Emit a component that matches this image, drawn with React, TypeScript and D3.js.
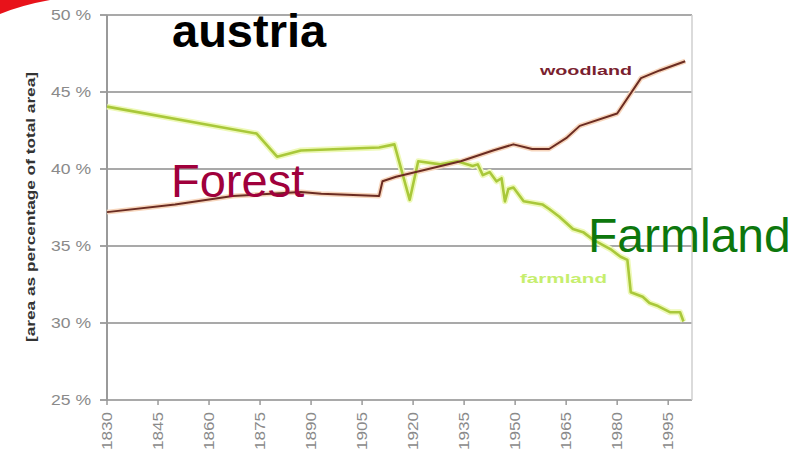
import React from "react";
import * as d3 from "d3";

const yTicks = [25, 30, 35, 40, 45, 50];
const yTickLabels = ["25 %", "30 %", "35 %", "40 %", "45 %", "50 %"];
const xTicks = [1830, 1845, 1860, 1875, 1890, 1905, 1920, 1935, 1950, 1965, 1980, 1995];

const woodYears = [1830, 1850, 1867, 1887, 1893, 1910, 1911, 1915, 1934, 1943.5, 1949.5, 1955, 1960, 1965, 1969, 1980, 1987, 1992.5, 2000];
const woodValues = [37.2, 37.7, 38.25, 38.5, 38.4, 38.25, 39.2, 39.5, 40.5, 41.2, 41.6, 41.3, 41.3, 42.0, 42.8, 43.6, 45.9, 46.4, 47.0];

const farmYears = [1830, 1874, 1880, 1887, 1910, 1914.5, 1919, 1921.5, 1928, 1933, 1937.5, 1939, 1940.5, 1942.5, 1944.5, 1946, 1947, 1948, 1949.5, 1952.5, 1958, 1960, 1963, 1967, 1970, 1973, 1978, 1981, 1983, 1984, 1987.5, 1989.5, 1992, 1995.5, 1998.5, 1999.5];
const farmValues = [44.05, 42.3, 40.8, 41.2, 41.4, 41.6, 38.0, 40.5, 40.3, 40.5, 40.2, 40.3, 39.6, 39.8, 39.2, 39.4, 37.9, 38.7, 38.8, 37.9, 37.7, 37.4, 36.9, 36.1, 35.9, 35.4, 34.8, 34.3, 34.1, 32.0, 31.7, 31.3, 31.1, 30.7, 30.7, 30.1];

export default function App() {
  const x = d3.scaleLinear().domain([1830, 2002]).range([107, 692]);
  const y = d3.scaleLinear().domain([25, 50]).range([400, 15]);
  const line = d3
    .line<[number, number]>()
    .x((d) => x(d[0]))
    .y((d) => y(d[1]));
  const woodPath = line(woodYears.map((yr, i) => [yr, woodValues[i]]) as [number, number][]) || "";
  const farmPath = line(farmYears.map((yr, i) => [yr, farmValues[i]]) as [number, number][]) || "";
  const font = "Arial, 'Liberation Sans', sans-serif";
  const [x0, x1] = x.range();

  return (
    <svg width={798} height={454} style={{ position: "absolute", left: 0, top: 0, background: "#fff" }}>
      <path d="M0,0 L50,0 Q22,5 0,14 Z" fill="#e8121a" />
      {yTicks.map((t, i) => (
        <g key={t}>
          <line x1={x0} x2={x1} y1={y(t)} y2={y(t)} stroke="#8c8c8c" strokeWidth={1.6} />
          <line x1={100} x2={x0} y1={y(t)} y2={y(t)} stroke="#8c8c8c" strokeWidth={1.6} />
          <text x={91} y={y(t) + 5} textAnchor="end" fontFamily={font} fontSize={14} fill="#8a8a8a" textLength={40} lengthAdjust="spacingAndGlyphs">
            {yTickLabels[i]}
          </text>
        </g>
      ))}
      <line x1={x1} x2={x1} y1={y(50)} y2={y(25)} stroke="#cfcfcf" strokeWidth={1.5} />
      <line x1={x0} x2={x0} y1={y(50)} y2={y(25) + 1} stroke="#9a9a9a" strokeWidth={2} />
      {xTicks.map((t) => (
        <g key={t}>
          <line x1={x(t)} x2={x(t)} y1={400} y2={405} stroke="#9a9a9a" strokeWidth={1.5} />
          <text
            transform={`translate(${x(t) + 5},412) rotate(-90)`}
            textAnchor="end"
            fontFamily={font}
            fontSize={14}
            fill="#8a8a8a"
            textLength={38}
            lengthAdjust="spacingAndGlyphs"
          >
            {t}
          </text>
        </g>
      ))}
      <text
        transform="translate(35,207) rotate(-90)"
        textAnchor="middle"
        fontFamily={font}
        fontSize={13}
        fontWeight="bold"
        fill="#333"
        textLength={270}
        lengthAdjust="spacingAndGlyphs"
      >
        [area as percentage of total area]
      </text>
      <path d={farmPath} fill="none" stroke="#eef9b8" strokeWidth={6} strokeLinejoin="round" />
      <path d={woodPath} fill="none" stroke="#f7d6bd" strokeWidth={5} strokeLinejoin="round" />
      <path d={farmPath} fill="none" stroke="#a9c83a" strokeWidth={2.6} strokeLinejoin="round" />
      <path d={woodPath} fill="none" stroke="#6b2c22" strokeWidth={2} strokeLinejoin="round" />
      <text x={540} y={75} fontFamily={font} fontSize={13} fontWeight="bold" fill="#7a1f30" textLength={92} lengthAdjust="spacingAndGlyphs">
        woodland
      </text>
      <text x={520} y={283} fontFamily={font} fontSize={13} fontWeight="bold" fill="#c6ee6e" textLength={87} lengthAdjust="spacingAndGlyphs">
        farmland
      </text>
      <text x={172} y={47} fontFamily={font} fontSize={47} fontWeight="bold" fill="#000">
        austria
      </text>
      <text x={171} y={197} fontFamily={font} fontSize={47} fill="#a0003c">
        Forest
      </text>
      <text x={588} y={252} fontFamily={font} fontSize={48} fill="#0d770d">
        Farmland
      </text>
    </svg>
  );
}
